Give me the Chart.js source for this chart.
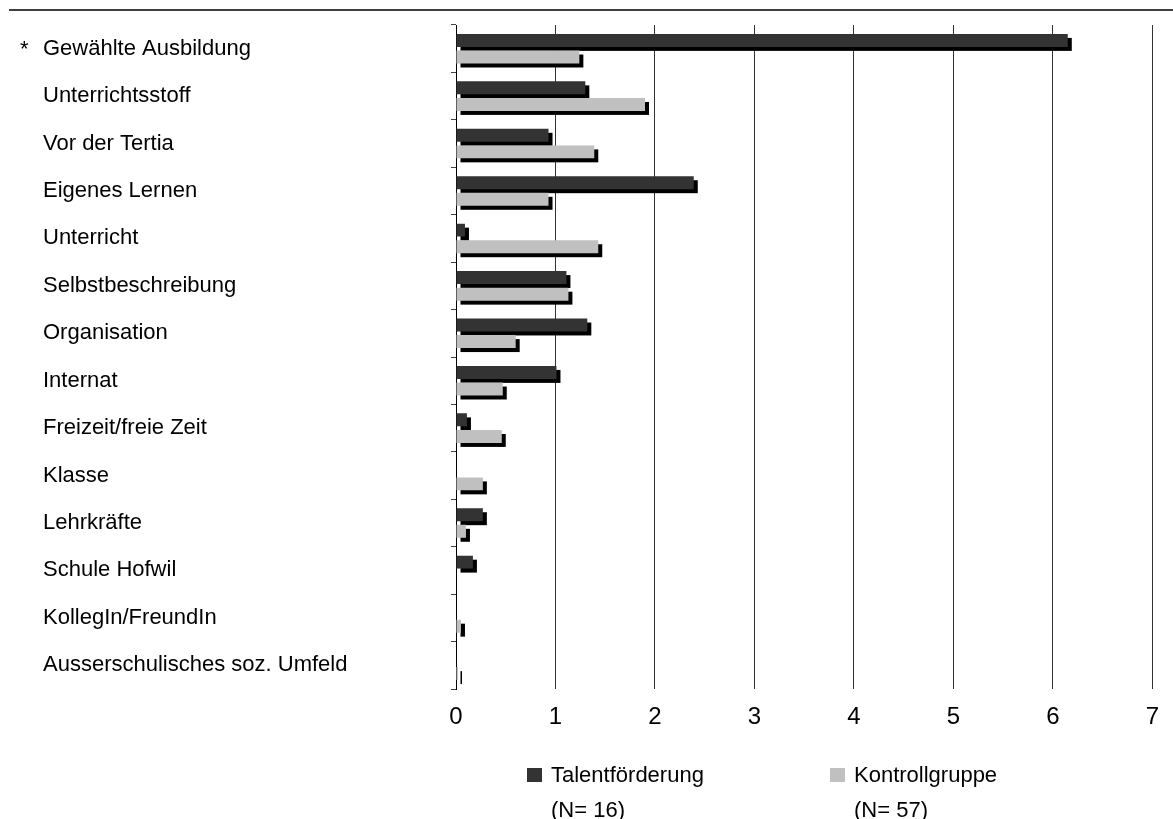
<!DOCTYPE html>
<html>
<head>
<meta charset="utf-8">
<script src="https://cdn.jsdelivr.net/npm/chart.js@4.4.1/dist/chart.umd.min.js"></script>
<style>
  html, body { margin: 0; padding: 0; background: #fff; }
  #wrap { width: 1173px; height: 819px; position: relative; }
</style>
</head>
<body>
<div id="wrap"><canvas id="c" width="1173" height="819"></canvas></div>
<script>
// ---- data ----
const categories = [
  'Gewählte Ausbildung', 'Unterrichtsstoff', 'Vor der Tertia', 'Eigenes Lernen',
  'Unterricht', 'Selbstbeschreibung', 'Organisation', 'Internat',
  'Freizeit/freie Zeit', 'Klasse', 'Lehrkräfte', 'Schule Hofwil',
  'KollegIn/FreundIn', 'Ausserschulisches soz. Umfeld'
];
const significant = [true, false, false, false, false, false, false, false, false, false, false, false, false, false];
const talentValues   = [6.15, 1.30, 0.93, 2.39, 0.09, 1.11, 1.32, 1.01, 0.11, 0.00, 0.27, 0.17, 0.00, 0.00];
const kontrollValues = [1.24, 1.90, 1.39, 0.93, 1.43, 1.13, 0.60, 0.47, 0.46, 0.27, 0.10, 0.00, 0.05, 0.02];
const seriesNames = ['Talentförderung', 'Kontrollgruppe'];
const seriesNotes = ['(N= 16)', '(N= 57)'];
const xTickValues = [0, 1, 2, 3, 4, 5, 6, 7];

const FONT = "'Liberation Sans', Arial, sans-serif";
const colors = ['#333333', '#c0c0c0'];

// draws the drop shadow behind each bar
const shadowPlugin = {
  id: 'barShadow',
  beforeDatasetsDraw(chart) {
    const ctx = chart.ctx;
    ctx.save();
    ctx.fillStyle = '#000';
    chart.data.datasets.forEach((ds, di) => {
      const meta = chart.getDatasetMeta(di);
      meta.data.forEach((bar) => {
        const p = bar.getProps(['x', 'y', 'base', 'height'], true);
        const w = p.x - p.base;
        if (w <= 0.3) return;
        ctx.fillRect(p.base + 4, p.y - p.height / 2 + 4, w, p.height);
      });
    });
    ctx.restore();
  }
};

// top rule, significance asterisk and legend
const decoPlugin = {
  id: 'deco',
  afterDraw(chart) {
    const ctx = chart.ctx;
    const y = chart.scales.y;
    ctx.save();
    // top rule
    ctx.strokeStyle = '#000';
    ctx.lineWidth = 1.5;
    ctx.beginPath();
    ctx.moveTo(9, 10);
    ctx.lineTo(1173, 10);
    ctx.stroke();
    // asterisks
    ctx.fillStyle = '#000';
    ctx.font = '22px ' + FONT;
    ctx.textBaseline = 'middle';
    ctx.textAlign = 'left';
    significant.forEach((s, i) => {
      if (s) ctx.fillText('*', 20, y.getPixelForValue(i) + 1);
    });
    // legend
    const lx = [527, 830];
    seriesNames.forEach((name, i) => {
      ctx.fillStyle = colors[i];
      ctx.fillRect(lx[i], 768, 15, 14);
      ctx.fillStyle = '#000';
      ctx.font = '22px ' + FONT;
      ctx.textBaseline = 'middle';
      ctx.fillText(name, lx[i] + 24, 776);
      ctx.fillText(seriesNotes[i], lx[i] + 24, 811);
    });
    ctx.restore();
  }
};

new Chart(document.getElementById('c'), {
  type: 'bar',
  data: {
    labels: categories,
    datasets: [
      { label: seriesNames[0], data: talentValues, backgroundColor: colors[0], borderWidth: 0,
        categoryPercentage: 0.70, barPercentage: 0.78 },
      { label: seriesNames[1], data: kontrollValues, backgroundColor: colors[1], borderWidth: 0,
        categoryPercentage: 0.70, barPercentage: 0.78 }
    ]
  },
  options: {
    indexAxis: 'y',
    responsive: false,
    animation: false,
    devicePixelRatio: 1,
    layout: { padding: { left: 43, right: 17, top: 25, bottom: 0 } },
    plugins: { legend: { display: false }, tooltip: { enabled: false } },
    scales: {
      x: {
        min: 0, max: 7,
        afterBuildTicks(s) { s.ticks = xTickValues.map(v => ({ value: v })); },
        ticks: { font: { family: FONT, size: 24 }, color: '#000', padding: 14, maxRotation: 0 },
        grid: { color: '#333', lineWidth: 1, drawTicks: false },
        border: { display: false },
        afterFit(s) { s.height = 130; }
      },
      y: {
        ticks: { crossAlign: 'far', font: { family: FONT, size: 22 }, color: '#000', padding: 0 },
        grid: { offset: true, drawOnChartArea: false, drawTicks: true, tickLength: 5, color: '#444' },
        border: { display: true, color: '#000', width: 1 },
        afterFit(s) { s.width = 413; }
      }
    }
  },
  plugins: [shadowPlugin, decoPlugin]
});
</script>
</body>
</html>
